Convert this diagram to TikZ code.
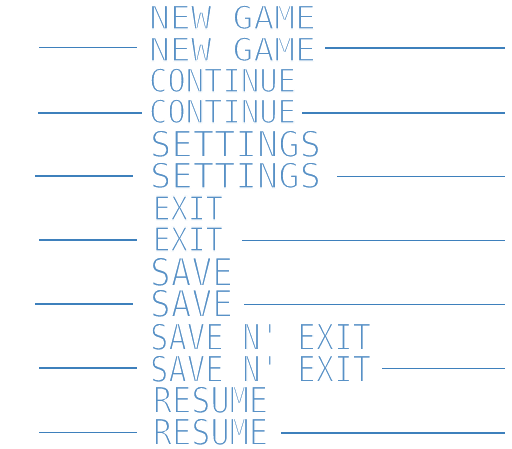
\documentclass[tikz,border=0pt]{standalone}
\usepackage{fontspec}
\usepackage{graphicx}
\newfontfamily\menufont{DejaVu Sans Mono}
\definecolor{txt}{RGB}{88,145,198}
\definecolor{ln}{RGB}{62,128,188}
\newcommand\thinglyphs[1]{\special{pdf:literal direct 2 Tr 1 1 1 RG 0.42 w}#1\special{pdf:literal direct 0 Tr}}
\begin{document}
\begin{tikzpicture}[x=1pt,y=-1pt,
  lbl/.style={inner sep=0pt, outer sep=0pt, anchor=base west, text=txt, font=\menufont},
  rule/.style={draw=ln, line width=1.2pt}]
\useasboundingbox (0,0) rectangle (512,448);
% labels
\node[lbl] (t1)  at (149,29)  {\resizebox{167pt}{24pt}{\thinglyphs{NEW GAME}}};
\node[lbl] (t2)  at (149,61)  {\resizebox{167pt}{24pt}{\thinglyphs{NEW GAME}}};
\node[lbl] (t3)  at (149,92)  {\resizebox{147pt}{24pt}{\thinglyphs{CONTINUE}}};
\node[lbl] (t4)  at (149,123) {\resizebox{147pt}{24pt}{\thinglyphs{CONTINUE}}};
\node[lbl] (t5)  at (150,157) {\resizebox{171pt}{27pt}{\thinglyphs{SETTINGS}}};
\node[lbl] (t6)  at (150,188) {\resizebox{171pt}{26pt}{\thinglyphs{SETTINGS}}};
\node[lbl] (t7)  at (153,220) {\resizebox{70pt}{24pt}{\thinglyphs{EXIT}}};
\node[lbl] (t8)  at (153,251) {\resizebox{70pt}{24pt}{\thinglyphs{EXIT}}};
\node[lbl] (t9)  at (150,286) {\resizebox{83pt}{29pt}{\thinglyphs{SAVE}}};
\node[lbl] (t10) at (150,317) {\resizebox{83pt}{28pt}{\thinglyphs{SAVE}}};
\node[lbl] (t11) at (150,350) {\resizebox{221pt}{27pt}{\thinglyphs{SAVE N' EXIT}}};
\node[lbl] (t12) at (150,382) {\resizebox{221pt}{27pt}{\thinglyphs{SAVE N' EXIT}}};
\node[lbl] (t13) at (153,413) {\resizebox{115pt}{27pt}{\thinglyphs{RESUME}}};
\node[lbl] (t14) at (153,445) {\resizebox{115pt}{27pt}{\thinglyphs{RESUME}}};
% rules
\draw[rule] (39,47.7) -- (137,47.7);  \draw[rule] (325,48) -- (505,48);
\draw[rule] (38,113) -- (142,113);    \draw[rule] (302,113) -- (505,113);
\draw[rule] (35,176) -- (133,176);    \draw[rule] (337,176.5) -- (505,176.5);
\draw[rule] (39,240) -- (137,240);    \draw[rule] (242,240.5) -- (505,240.5);
\draw[rule] (35,304) -- (133,304);    \draw[rule] (244,304.5) -- (505,304.5);
\draw[rule] (39,368) -- (137,368);    \draw[rule] (382,368.5) -- (505,368.5);
\draw[rule] (39,432.5) -- (137,432.5);\draw[rule] (281,433) -- (505,433);
\end{tikzpicture}
\end{document}
